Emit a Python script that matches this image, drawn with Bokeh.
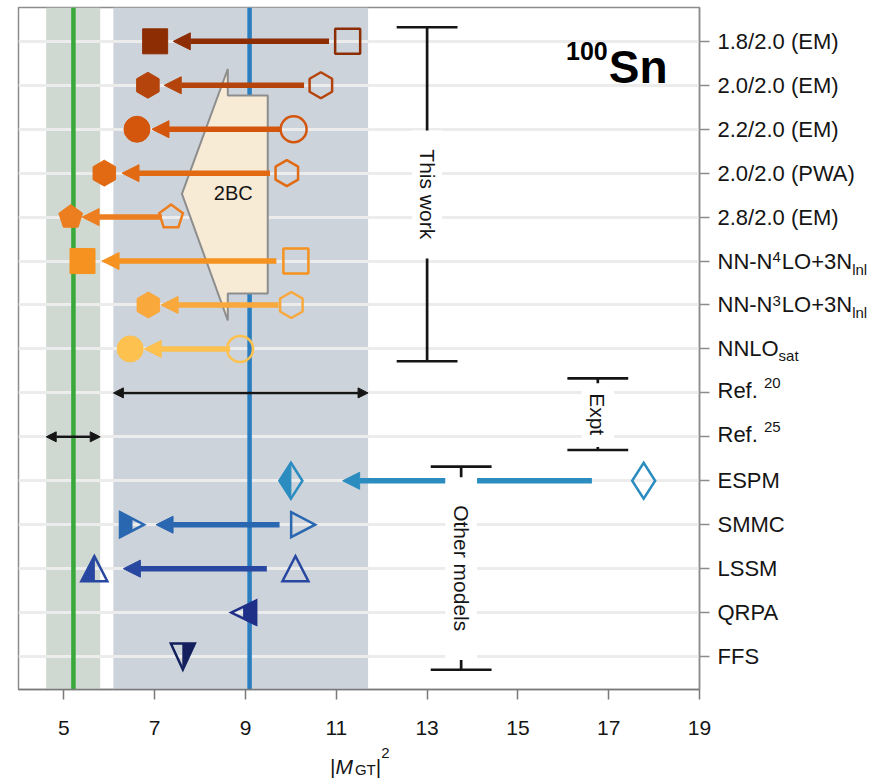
import math
from bokeh.plotting import figure
from bokeh.layouts import row, column
from bokeh.models import (Range1d, FixedTicker, Arrow, NormalHead, BoxAnnotation,
                          Label, Span, ColumnDataSource)
from bokeh.embed import file_html
from bokeh.resources import INLINE

# ---------------- data ----------------
# row labels as (text, kind) pieces; kinds mark super/subscripts
row_label_parts = [
    [("1.8/2.0 (EM)", "main")],
    [("2.0/2.0 (EM)", "main")],
    [("2.2/2.0 (EM)", "main")],
    [("2.0/2.0 (PWA)", "main")],
    [("2.8/2.0 (EM)", "main")],
    [("NN-N", "main"), ("4", "sup"), ("LO+3N", "main"), ("lnl", "sub")],
    [("NN-N", "main"), ("3", "sup"), ("LO+3N", "main"), ("lnl", "sub")],
    [("NNLO", "main"), ("sat", "sub2")],
    [("Ref. ", "ref"), ("20", "supref")],
    [("Ref. ", "ref"), ("25", "supref")],
    [("ESPM", "main")],
    [("SMMC", "main")],
    [("LSSM", "main")],
    [("QRPA", "main")],
    [("FFS", "main")],
]
x_ticks = [5, 7, 9, 11, 13, 15, 17, 19]
x_tick_labels = ["5", "7", "9", "11", "13", "15", "17", "19"]
x_title_parts = [("|", "t_main"), ("M", "t_ital"), ("GT", "t_sub"), ("|", "t_main"), ("2", "t_sup")]

# "This work" calculations (initial -> final)
tw_rows = [0, 1, 2, 3, 4, 5, 6, 7]
tw_initial = [11.25, 10.66, 10.06, 9.91, 7.36, 10.11, 10.01, 8.88]
tw_final = [7.01, 6.85, 6.61, 5.89, 5.15, 5.41, 6.86, 6.46]
tw_arrow_from = [10.84, 10.29, 9.76, 9.54, 7.16, 9.68, 9.73, 8.66]
tw_arrow_to = [7.41, 7.21, 6.94, 6.28, 5.40, 5.84, 7.14, 6.77]
tw_markers = ["square", "hex", "circle", "hex", "pentagon", "square", "hex", "circle"]
tw_colors = ["#8c2d04", "#b4440b", "#d4560d", "#e26a12", "#ed7e1f", "#f6921f", "#f9a83c", "#fcc14f"]

# other models
om_rows = [10, 11, 12, 13, 14]
om_final = [10.00, 6.50, 5.67, 8.96, 7.62]
om_initial = [17.77, 10.27, 10.10, None, None]
om_arrow_from = [16.63, 9.75, 9.47, None, None]
om_arrow_to = [11.14, 7.03, 6.31, None, None]
om_shapes = ["diamond", "tri_right", "tri_up", "tri_left", "tri_down"]
om_colors = ["#2b8cc0", "#2a67b1", "#2747a0", "#1f2f88", "#14205e"]

# experiment (Ref. 20 and Ref. 25): ranges and central values
expt_rows = [8, 9]
expt_low = [6.09, 4.61]
expt_high = [11.70, 5.80]
expt_center = [9.09, 5.21]
expt_band_colors = ["#ccd3db", "#cfd8d1"]
expt_line_colors = ["#2a7dbf", "#38a93a"]

# 2BC shape
twobc_x = [8.61, 8.61, 9.49, 9.49, 8.61, 8.61, 7.60]
twobc_y = [0.63, 1.23, 1.23, 5.74, 5.74, 6.35, 3.47]

# brackets
br_x = [13.00, 16.76, 13.75]
br_top = [-0.32, 7.67, 9.68]
br_bottom = [7.28, 9.30, 14.30]
br_text = ["This work", "Expt", "Other models"]

# ---------------- layout constants ----------------
X_MIN, X_MAX = 4, 19
Y_TOP, Y_BOT = -0.77, 14.75
FRAME_W, FRAME_H = 681, 682
LEFT, TOP, BOTTOM, RIGHT = 18, 7, 14, 16
TOTAL_W, TOTAL_H = 881, 779
KX = FRAME_W / (X_MAX - X_MIN)
KY = FRAME_H / (Y_BOT - Y_TOP)
FONT = "Liberation Sans"
INK = "#151515"

p = figure(frame_width=FRAME_W, frame_height=FRAME_H,
           x_range=Range1d(X_MIN, X_MAX), y_range=Range1d(Y_BOT, Y_TOP),
           y_axis_location="right", output_backend="svg", toolbar_location=None,
           min_border_left=LEFT, min_border_top=TOP, min_border_right=RIGHT,
           min_border_bottom=BOTTOM,
           background_fill_color="white", border_fill_color="white",
           outline_line_color="#8c8c8c", outline_line_width=1.5)

# axes (tick marks here; tick labels are drawn in the panels below / right)
xa = p.xaxis[0]
xa.axis_label = None
xa.ticker = FixedTicker(ticks=x_ticks)
xa.major_label_overrides = {t: "" for t in x_ticks}
xa.major_label_text_font_size = "0px"
xa.major_label_standoff = 0
xa.major_tick_out = 10
xa.major_tick_in = 0
xa.minor_tick_out = 0
xa.minor_tick_in = 0
xa.axis_line_color = "#7a7a7a"
xa.axis_line_width = 1.5
xa.major_tick_line_color = "#7a7a7a"
xa.major_tick_line_width = 1.5

ya = p.yaxis[0]
ya.axis_label = None
ya.ticker = FixedTicker(ticks=list(range(len(row_label_parts))))
ya.major_label_overrides = {i: "" for i in range(len(row_label_parts))}
ya.major_label_text_font_size = "0px"
ya.major_tick_out = 10
ya.major_tick_in = 0
ya.minor_tick_out = 0
ya.minor_tick_in = 0
ya.major_label_standoff = 0
ya.axis_line_color = "#8c8c8c"
ya.axis_line_width = 1.5
ya.major_tick_line_color = "#8c8c8c"
ya.major_tick_line_width = 1.5

p.xgrid.visible = False
p.ygrid.ticker = FixedTicker(ticks=list(range(len(row_label_parts))))
p.ygrid.grid_line_color = "#ececec"
p.ygrid.grid_line_width = 3

# experimental bands and central lines
for lo, hi, bc in zip(expt_low, expt_high, expt_band_colors):
    p.add_layout(BoxAnnotation(left=lo, right=hi, fill_color=bc, fill_alpha=1,
                               line_color=None, level="image"))
for c, lc in zip(expt_center, expt_line_colors):
    p.add_layout(Span(location=c, dimension="height", line_color=lc,
                      line_width=4.5, level="underlay"))

# 2BC shape
p.patch(twobc_x, twobc_y, fill_color="#f8ebd6", line_color="#8d8d8d", line_width=2)

# brackets
CAP = 0.67
p.segment(x0=br_x, y0=br_top, x1=br_x, y1=br_bottom, line_color=INK, line_width=2.7)
p.segment(x0=[x - CAP for x in br_x], y0=br_top, x1=[x + CAP for x in br_x], y1=br_top,
          line_color=INK, line_width=2.7)
p.segment(x0=[x - CAP for x in br_x], y0=br_bottom, x1=[x + CAP for x in br_x], y1=br_bottom,
          line_color=INK, line_width=2.7)

# ---------------- markers: this work ----------------
MSIZE = {"square": 25, "hex": 26, "circle": 26}
sc = [i for i, m in enumerate(tw_markers) if m != "pentagon"]
src = ColumnDataSource(dict(
    x_ini=[tw_initial[i] for i in sc], x_fin=[tw_final[i] for i in sc],
    y=[tw_rows[i] for i in sc], marker=[tw_markers[i] for i in sc],
    color=[tw_colors[i] for i in sc], size=[MSIZE[tw_markers[i]] for i in sc],
    angle=[math.pi / 2 if tw_markers[i] == "hex" else 0.0 for i in sc]))
p.scatter("x_ini", "y", source=src, marker="marker", size="size", angle="angle",
          fill_alpha=0, line_color="color", line_width=2.5)
p.scatter("x_fin", "y", source=src, marker="marker", size="size", angle="angle",
          fill_color="color", line_color="color", line_width=1)


def shape(cx, cy, pts):
    return [cx + dx / KX for dx, dy in pts], [cy + dy / KY for dx, dy in pts]


R5 = 12.5
PENT = [(R5 * math.cos(math.radians(-90 + 72 * k)), R5 * math.sin(math.radians(-90 + 72 * k)))
        for k in range(5)]
for i in [i for i, m in enumerate(tw_markers) if m == "pentagon"]:
    xs, ys = shape(tw_initial[i], tw_rows[i], PENT)
    p.patch(xs, ys, fill_alpha=0, line_color=tw_colors[i], line_width=2.5, line_join="miter")
    xs, ys = shape(tw_final[i], tw_rows[i], PENT)
    p.patch(xs, ys, fill_color=tw_colors[i], line_color=tw_colors[i], line_width=1)

# ---------------- markers: other models ----------------
SHAPES = {
    "diamond": ([(0, -18), (11.5, 0), (0, 18), (-11.5, 0)], [(0, -18), (0, 18), (-11.5, 0)]),
    "tri_right": ([(-12, -12.5), (12, 0), (-12, 12.5)],
                  [(-12, -12.5), (0, -6.25), (0, 6.25), (-12, 12.5)]),
    "tri_up": ([(0, -12.5), (13, 12.5), (-13, 12.5)], [(0, -12.5), (0, 12.5), (-13, 12.5)]),
    "tri_left": ([(-12.5, 0), (12.5, -12), (12.5, 12)], [(0, -6), (12.5, -12), (12.5, 12), (0, 6)]),
    "tri_down": ([(-12, -13), (12, -13), (0, 13)], [(0, -13), (12, -13), (0, 13)]),
}
oxs, oys, ocs, hxs, hys, hcs = [], [], [], [], [], []
for r, xf, xi, shp, c in zip(om_rows, om_final, om_initial, om_shapes, om_colors):
    full, half = SHAPES[shp]
    xs, ys = shape(xf, r, half)
    hxs.append(xs); hys.append(ys); hcs.append(c)
    xs, ys = shape(xf, r, full)
    oxs.append(xs); oys.append(ys); ocs.append(c)
    if xi is not None:
        xs, ys = shape(xi, r, full)
        oxs.append(xs); oys.append(ys); ocs.append(c)
p.patches(hxs, hys, fill_color=hcs, line_color=hcs, line_width=1)
p.patches(oxs, oys, fill_alpha=0, line_color=ocs, line_width=2.5, line_join="miter")

# ---------------- arrows ----------------
for r, a, b, c in zip(tw_rows, tw_arrow_from, tw_arrow_to, tw_colors):
    p.add_layout(Arrow(end=NormalHead(size=17, fill_color=c, line_color=c, line_width=1),
                       x_start=a, y_start=r, x_end=b, y_end=r,
                       line_color=c, line_width=5.5))
for r, a, b, c in zip(om_rows, om_arrow_from, om_arrow_to, om_colors):
    if a is None:
        continue
    p.add_layout(Arrow(end=NormalHead(size=17, fill_color=c, line_color=c, line_width=1),
                       x_start=a, y_start=r, x_end=b, y_end=r,
                       line_color=c, line_width=5.5))
for r, lo, hi in zip(expt_rows, expt_low, expt_high):
    p.add_layout(Arrow(start=NormalHead(size=10, fill_color=INK, line_color=INK),
                       end=NormalHead(size=10, fill_color=INK, line_color=INK),
                       x_start=lo, y_start=r, x_end=hi, y_end=r,
                       line_color=INK, line_width=2.5))

# white boxes behind bracket labels
for (l, rgt, t, b) in [(12.67, 13.33, 2.03, 4.94), (16.40, 17.12, 7.78, 9.23),
                       (13.40, 14.10, 9.92, 14.08)]:
    p.add_layout(BoxAnnotation(left=l, right=rgt, top=t, bottom=b, fill_color="white",
                               fill_alpha=1, line_color=None))

for x, t0, t1, txt in zip(br_x, br_top, br_bottom, br_text):
    p.add_layout(Label(x=x, y=(t0 + t1) / 2, text=txt, angle=-math.pi / 2,
                       text_align="center", text_baseline="middle",
                       text_font=FONT, text_font_size="21px", text_color=INK))

p.add_layout(Label(x=8.73, y=3.44, text="2BC", text_align="center", text_baseline="middle",
                   text_font=FONT, text_font_size="20px", text_color=INK))

# 100Sn
p.add_layout(Label(x=17.0, y=0.59, text="Sn", text_align="left", text_baseline="alphabetic",
                   text_font=FONT, text_font_size="46px", text_font_style="bold",
                   text_color="black"))
p.add_layout(Label(x=17.0, y=0.59, x_offset=-1, y_offset=16.7, text="100", text_align="right",
                   text_baseline="alphabetic", text_font=FONT, text_font_size="25px",
                   text_font_style="bold", text_color="black"))

# ---------------- text metrics (Arial / Liberation Sans advance widths) ----------------
AW = {'N': 722, '-': 333, 'L': 556, 'O': 778, '+': 584, '0': 556, '1': 556, '2': 556,
      '3': 556, '4': 556, '5': 556, '8': 556, 'R': 722, 'e': 556, 'f': 278, '.': 278,
      ' ': 278, 's': 500, 'a': 556, 't': 278, 'l': 222, 'n': 556, '|': 260, 'M': 833,
      'G': 778, 'T': 611, '/': 278, '(': 333, ')': 333, 'E': 667, 'P': 667, 'W': 944,
      'A': 667, 'S': 667, 'C': 722, 'Q': 778, 'F': 611}


def adv(s, size):
    return sum(AW.get(ch, 556) for ch in s) * size / 1000.0


# ---------------- right-hand row labels (own panel, same y scale) ----------------
RW = TOTAL_W - (LEFT + FRAME_W + RIGHT)
pr = figure(frame_width=RW, frame_height=FRAME_H, x_range=Range1d(0, RW), y_range=p.y_range,
            x_axis_location=None, y_axis_location=None, output_backend="svg",
            toolbar_location=None, min_border_left=0, min_border_right=0,
            min_border_top=TOP, min_border_bottom=BOTTOM, outline_line_color=None,
            background_fill_color="white", border_fill_color="white")
for g in pr.grid:
    g.visible = False

KIND = {"main": (22, 0), "sup": (15, 4), "sub": (15, -8), "sub2": (15, -7),
        "ref": (22, 2), "supref": (15, 10)}
for r, parts in enumerate(row_label_parts):
    off = 2.0
    for txt, kind in parts:
        size, dy = KIND[kind]
        pr.add_layout(Label(x=off, y=r, y_offset=dy, text=txt,
                            text_align="left", text_baseline="middle",
                            text_font=FONT, text_font_size=f"{size}px", text_color=INK))
        off += adv(txt, size) + (1 if size < 20 else 0)

# ---------------- x tick labels and title |M_GT|^2 (own panel, same x scale) ----------------
PB_TOP = TOP + FRAME_H + BOTTOM
BH = TOTAL_H - PB_TOP
PBW = TOTAL_W - LEFT
pb = figure(frame_width=PBW, frame_height=BH,
            x_range=Range1d(X_MIN, X_MIN + PBW / KX), y_range=Range1d(BH, 0),
            x_axis_location=None, y_axis_location=None, output_backend="svg",
            toolbar_location=None, min_border_left=LEFT, min_border_right=0,
            min_border_top=0, min_border_bottom=0, outline_line_color=None,
            background_fill_color="white", border_fill_color="white")
for g in pb.grid:
    g.visible = False

TICK_BASE = 727 - PB_TOP
for t, lab in zip(x_ticks, x_tick_labels):
    pb.add_layout(Label(x=t, y=TICK_BASE, text=lab, text_align="center",
                        text_baseline="alphabetic", text_font=FONT, text_font_size="21px",
                        text_color=INK))

TITLE_BASE = 766 - PB_TOP
TKIND = {"t_main": (21, "normal", 0), "t_ital": (21, "italic", 0),
         "t_sub": (15, "normal", -3), "t_sup": (15, "normal", 14)}
off = 0.0
for txt, kind in x_title_parts:
    size, style, dy = TKIND[kind]
    pb.add_layout(Label(x=10.86, y=TITLE_BASE, x_offset=off, y_offset=dy, text=txt,
                        text_align="left", text_baseline="alphabetic",
                        text_font=FONT, text_font_size=f"{size}px", text_font_style=style,
                        text_color=INK))
    off += adv(txt, size) + (2 if style == "italic" else 0)

layout = column(row(p, pr), pb)
open("out.html", "w").write(file_html(layout, INLINE))
